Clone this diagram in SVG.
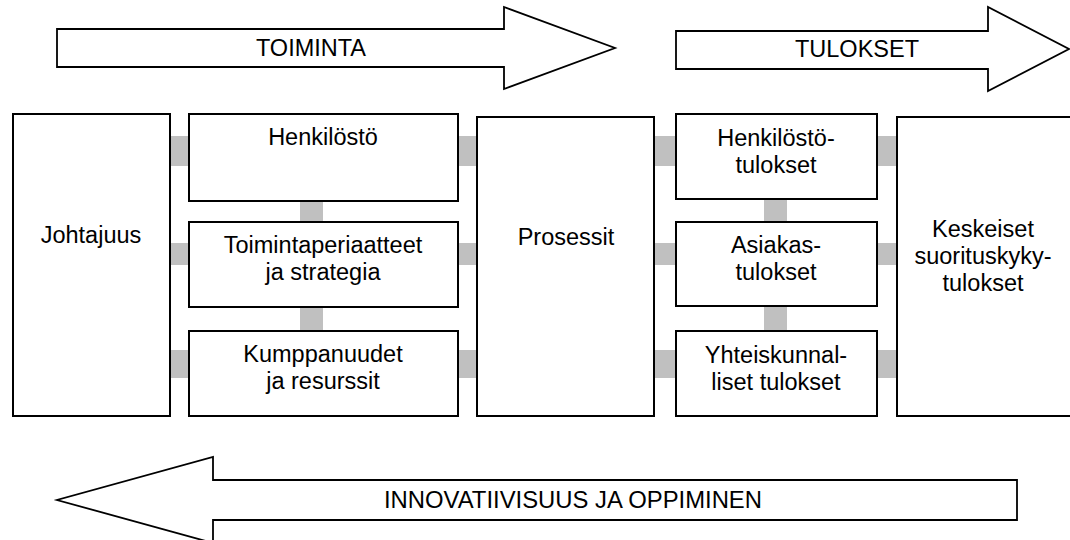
<svg xmlns="http://www.w3.org/2000/svg" width="1070" height="540" viewBox="0 0 1070 540">
<style>
.box{fill:#fff;stroke:#000;stroke-width:2}
.arr{fill:#fff;stroke:#000;stroke-width:1.8;stroke-linejoin:miter}
.bar{fill:#c0c0c0}
text{font-family:"Liberation Sans",Arial,sans-serif;font-size:23.5px;fill:#000;text-anchor:middle}
</style>
<rect width="1070" height="540" fill="#fff"/>
<g id="connectors">
<rect class="bar" x="169" y="136" width="21" height="30"/>
<rect class="bar" x="169" y="243" width="21" height="22"/>
<rect class="bar" x="169" y="350" width="21" height="28"/>
<rect class="bar" x="457" y="136" width="21" height="30"/>
<rect class="bar" x="457" y="243" width="21" height="22"/>
<rect class="bar" x="457" y="350" width="21" height="28"/>
<rect class="bar" x="654" y="136" width="23" height="30"/>
<rect class="bar" x="654" y="243" width="23" height="22"/>
<rect class="bar" x="654" y="350" width="23" height="28"/>
<rect class="bar" x="876" y="136" width="22" height="30"/>
<rect class="bar" x="876" y="243" width="22" height="22"/>
<rect class="bar" x="876" y="350" width="22" height="28"/>
<rect class="bar" x="300" y="200" width="23" height="23"/>
<rect class="bar" x="300" y="306" width="23" height="26"/>
<rect class="bar" x="764" y="198" width="23" height="25"/>
<rect class="bar" x="764" y="305" width="23" height="27"/>
</g>
<g id="arrow-toiminta">
<polygon class="arr" points="57,29 504,29 504,7 615,48 504,89 504,67 57,67"/>
<text x="311" y="56">TOIMINTA</text>
</g>
<g id="arrow-tulokset">
<polygon class="arr" points="676,31 988,31 988,7 1069,49 988,91 988,69 676,69"/>
<text x="857" y="57">TULOKSET</text>
</g>
<g id="arrow-innovatiivisuus">
<polygon class="arr" points="1017,480 213,480 213,457 57,500 213,543 213,520 1017,520"/>
<text x="573" y="508" textLength="378" lengthAdjust="spacingAndGlyphs">INNOVATIIVISUUS JA OPPIMINEN</text>
</g>
<g id="johtajuus">
<rect class="box" x="13" y="114" width="157" height="302"/>
<text x="91" y="243">Johtajuus</text>
</g>
<g id="henkilosto">
<rect class="box" x="189" y="114" width="269" height="87"/>
<text x="323" y="145">Henkilöstö</text>
</g>
<g id="toimintaperiaatteet">
<rect class="box" x="189" y="222" width="269" height="85"/>
<text x="323" y="253">Toimintaperiaatteet</text>
<text x="323" y="280">ja strategia</text>
</g>
<g id="kumppanuudet">
<rect class="box" x="189" y="331" width="269" height="85"/>
<text x="323" y="362">Kumppanuudet</text>
<text x="323" y="389">ja resurssit</text>
</g>
<g id="prosessit">
<rect class="box" x="477" y="117" width="177" height="299"/>
<text x="566" y="245">Prosessit</text>
</g>
<g id="henkilostotulokset">
<rect class="box" x="676" y="114" width="201" height="85"/>
<text x="776" y="146">Henkilöstö-</text>
<text x="776" y="173">tulokset</text>
</g>
<g id="asiakastulokset">
<rect class="box" x="676" y="222" width="201" height="84"/>
<text x="776" y="253">Asiakas-</text>
<text x="776" y="280">tulokset</text>
</g>
<g id="yhteiskunnalliset">
<rect class="box" x="676" y="331" width="201" height="85"/>
<text x="776" y="363">Yhteiskunnal-</text>
<text x="776" y="390">liset tulokset</text>
</g>
<g id="keskeiset">
<rect class="box" x="897" y="117" width="176" height="299"/>
<text x="983" y="237">Keskeiset</text>
<text x="983" y="264">suorituskyky-</text>
<text x="983" y="291">tulokset</text>
</g>
</svg>
